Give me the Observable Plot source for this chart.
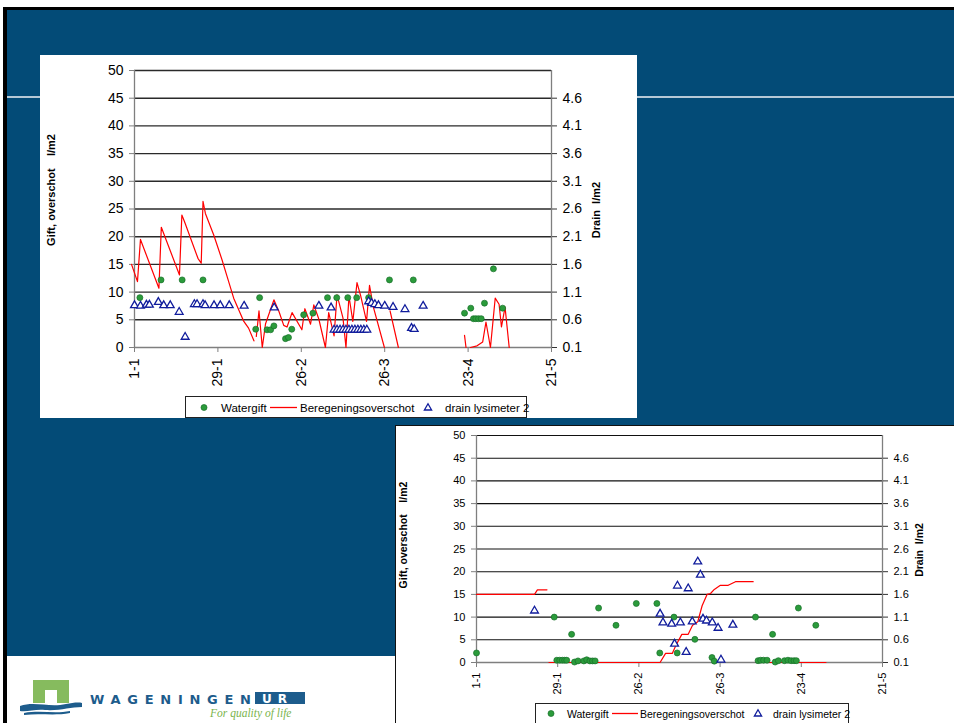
<!DOCTYPE html>
<html><head><meta charset="utf-8">
<script src="https://cdn.jsdelivr.net/npm/d3@7"></script>
<script src="https://cdn.jsdelivr.net/npm/@observablehq/plot@0.6"></script>
<style>
html,body{margin:0;padding:0}
body{width:954px;height:723px;overflow:hidden;background:#fff;position:relative;font-family:"Liberation Sans",Arial,sans-serif}
.abs{position:absolute}
#slide{left:3px;top:7px;width:960px;height:720px;background:#034b77;border-left:4px solid #000;border-top:3px solid #000;box-sizing:border-box}
#hline{left:7px;top:96px;width:947px;height:2px;background:#b6c8d6}
#foot{left:7px;top:656px;width:947px;height:67px;background:#fff}
#box1{left:40px;top:55px;width:597px;height:363px;background:#fff}
#box2{left:395px;top:425px;width:570px;height:310px;background:#fff;border:1px solid #111;box-sizing:border-box}
.legend{position:absolute;border:1px solid #222;background:#fff;box-sizing:border-box;color:#000;white-space:nowrap}
.legend span{position:absolute;top:50%;transform:translateY(-50%)}
.legend svg{position:absolute;top:0}
</style></head>
<body>
<div id="slide" class="abs"></div>
<div id="hline" class="abs"></div>
<div id="foot" class="abs"></div>
<div id="box1" class="abs"></div>
<div id="box2" class="abs"></div>
<div id="c1" class="abs" style="left:40px;top:55px"></div>
<div id="c2" class="abs" style="left:395px;top:425px"></div>
<div id="leg1" class="legend" style="left:185px;top:396px;width:342px;height:22px;font-size:11.5px"></div>
<div id="leg2" class="legend" style="left:535px;top:703px;width:314px;height:24px;font-size:10.5px"></div>
<svg class="abs" style="left:0;top:656px" width="395" height="67">
  <path d="M33,24 H69 V47 H57 V34 H45 V47 H33 Z" fill="#86bb5e"/>
  <path d="M20,50 C35,45 50,52 66,48 C72,47 78,46 82,47 L82,51 C70,51 60,55 45,54 C35,53 28,56 20,55 Z" fill="#1d5c8c"/>
  <path d="M24,57 C40,54 55,58 70,55 L70,57 C55,60 40,57 24,59 Z" fill="#1d5c8c"/>
  <text x="90" y="47.5" font-family="DejaVu Sans, sans-serif" font-size="13" font-weight="bold" textLength="161" lengthAdjust="spacing" fill="#1d5c8c">WAGENINGEN</text>
  <rect x="255" y="36" width="50" height="12" fill="#1d5c8c"/>
  <text x="262" y="46.5" font-family="DejaVu Sans, sans-serif" font-size="12" font-weight="bold" letter-spacing="6" fill="#fff">UR</text>
  <text x="210" y="61" font-family="Liberation Serif, serif" font-style="italic" font-size="11.5" fill="#79b44c">For quality of life</text>
</svg>
<script>
// ---------- data ----------
const dateLabels = ["1-1", "29-1", "26-2", "26-3", "23-4", "21-5"];
const dayTicks = [0, 28, 56, 84, 112, 140];
const leftTicks = [0, 5, 10, 15, 20, 25, 30, 35, 40, 45, 50];
const rightTicks = [0.1, 0.6, 1.1, 1.6, 2.1, 2.6, 3.1, 3.6, 4.1, 4.6];
const titleLeft = "Gift, overschot\u00a0\u00a0\u00a0 l/m2";
const titleRight = "Drain\u00a0 l/m2";
const legendNames = ["Watergift", "Beregeningsoverschot", "drain lysimeter 2"];

// chart 1 (day since 1-1, l/m2)
const c1Watergift = [[1.8,9],[8.9,12.2],[16,12.2],[23,12.2],[40.7,3.3],[42,9],[44.5,3.2],[45.7,3.2],[46.8,3.9],[50.7,1.6],[51.7,1.8],[52.8,3.3],[56.8,5.9],[59.9,6.2],[64.8,9],[67.9,9],[71.6,9],[74.6,9],[78.6,9],[85.6,12.2],[93.6,12.2],[110.8,6.2],[112.9,7.1],[113.8,5.2],[114.6,5.2],[115.5,5.2],[116.4,5.2],[117.5,8.0],[120.5,14.2],[123.6,7.1]];
const c1Overschot = [[-1,15],[1,11.9],[2,19.5],[8.2,10.7],[9,21.7],[15.1,13.1],[15.9,23.9],[16.8,22.7],[21.3,16.1],[22.4,15.2],[23,26.4],[23.8,24.2],[26.6,20.3],[29.4,15.8],[31.1,12.8],[33.3,8.9],[36.7,4.7],[38.3,3.5],[40.1,1.2],[40.5,null],[40.9,2.0],[41.8,6.6],[42.9,0],[44,4.3],[46.8,8.6],[48.5,6.5],[50.1,4.0],[51.2,3.7],[52.9,6.3],[56.2,3.2],[57.2,7.0],[59.1,4.2],[60.2,7.7],[61.9,5.1],[64.1,0],[65.2,6.3],[67,2.1],[68,9.5],[70,5.3],[71,0],[72,9.3],[73.3,4.7],[74.7,11.7],[76,9.2],[77.9,4.7],[78.9,11.2],[80.2,7.3],[83.9,0],[84.8,null],[85.8,6.6],[88.6,0],[100,null],[110.8,2.2],[111.3,0],[112,null],[112.8,0],[115,0.3],[116.9,1.0],[118,4.6],[119.5,0],[121.1,8.9],[122.4,7.8],[123.2,3.7],[124.4,7.3],[125.8,0]];
const c1Drain = [[0,0.86],[2,0.85],[4,0.87],[5,0.87],[8,0.92],[9.8,0.86],[12,0.86],[15,0.74],[17,0.29],[20.1,0.88],[21,0.88],[23,0.88],[23.7,0.86],[26.7,0.86],[28.8,0.86],[31.8,0.86],[36.8,0.85],[46.9,0.82],[61.9,0.85],[66,0.82],[67,0.42],[68,0.42],[69,0.42],[70,0.42],[71,0.42],[72,0.42],[73,0.42],[74,0.42],[75,0.42],[76,0.42],[77,0.42],[78,0.42],[78.6,0.93],[79.6,0.90],[80.7,0.88],[81.9,0.86],[84,0.85],[86.8,0.83],[90.8,0.79],[93,0.45],[93.9,0.43],[96.9,0.85]];

// chart 2
const c2Watergift = [[0,2.1],[26.8,10],[27.7,0.5],[28.7,0.5],[29.6,0.5],[30.4,0.5],[31.1,0.5],[32.8,6.2],[33.8,0.1],[35,0.35],[37,0.35],[38,0.6],[39.1,0.35],[40,0.35],[40.9,0.35],[42.1,12],[48.1,8.2],[55.1,13],[62.2,13],[63.2,2.1],[68.1,10],[69.2,2.1],[75.3,5.1],[81.2,1.1],[82,0.3],[96.2,10],[97.1,0.4],[98,0.5],[99,0.5],[100.2,0.5],[102.1,6.2],[103,0.1],[104.1,0.4],[106.2,0.4],[107.4,0.5],[108.5,0.4],[109.5,0.4],[110.3,0.4],[111,12],[117,8.2]];
const c2Overschot = [[0,15],[20,15],[21,16],[24.3,16],[24.6,null],[25,0],[63.3,0],[65.2,2],[67.5,2],[68.7,3.7],[70.8,6.2],[73,6.2],[74.5,8.2],[76.3,9],[77.8,12.5],[79.5,15],[80.7,15.2],[82,16.1],[84.1,17],[86.8,17],[89.3,17.8],[95.4,17.8],[96,null],[96.5,0],[120.5,0]];
const c2Drain = [[20,1.24],[63.3,1.17],[64.3,0.98],[67.3,0.95],[68.3,0.51],[69.3,1.79],[70.3,0.98],[72.3,0.33],[73,1.73],[74.4,1.0],[76.3,2.32],[77.2,2.03],[78.1,1.06],[79.3,1.02],[81.3,0.98],[83.3,0.86],[84.3,0.16],[88.4,0.93]];

// ---------- drawing ----------
const toLeft = d => (d - 0.1) * 10;          // drain axis -> left axis units
const labelOf = new Map(dayTicks.map((d, i) => [d, dateLabels[i]]));
const GREEN = "#2b9b3b", GREEN_S = "#17702a", RED = "#ff0000", BLUE = "#101c9c";

function chart(o) {
  return Plot.plot({
    width: o.width, height: o.height,
    marginLeft: o.ml, marginRight: o.mr, marginTop: o.mt, marginBottom: o.mb,
    style: {fontFamily: "Liberation Sans, Arial, sans-serif", fontSize: o.fs + "px", color: "#000", background: "transparent", overflow: "visible"},
    x: {domain: [0, 140]},
    y: {domain: [0, 50]},
    marks: [
      Plot.ruleY(leftTicks.filter(d => d > 0), {stroke: o.grid, strokeWidth: o.gw}),
      Plot.ruleX([0, 140], {stroke: "#7f7f7f", strokeWidth: 1.3}),
      Plot.ruleY([0], {stroke: "#7f7f7f", strokeWidth: 1.3}),
      Plot.axisY(leftTicks, {anchor: "left", tickSize: 5, tickPadding: o.lp, stroke: "#7f7f7f", fill: "#000", label: null, fontSize: o.fs}),
      Plot.axisY(rightTicks.map(toLeft), {anchor: "right", tickSize: 5, tickPadding: o.rp, stroke: "#333", fill: "#000", label: null, fontSize: o.fs, tickFormat: d => (d / 10 + 0.1).toFixed(1)}),
      Plot.axisX(dayTicks, {anchor: "bottom", tickSize: 5, tickPadding: o.xp, tickRotate: -90, stroke: "#7f7f7f", fill: "#000", label: null, fontSize: o.fs, tickFormat: d => labelOf.get(d)}),
      Plot.line(o.over, {x: d => d[0], y: d => d[1], stroke: RED, strokeWidth: 1.2}),
      Plot.dot(o.water, {x: d => d[0], y: d => d[1], r: 3, fill: GREEN, stroke: GREEN_S, strokeWidth: 0.7}),
      Plot.dot(o.drain, {x: d => d[0], y: d => toLeft(d[1]), symbol: "triangle", r: 2.9, fill: "#fff", stroke: BLUE, strokeWidth: 1.3}),
      Plot.text([titleLeft], {text: d => d, frameAnchor: "left", textAnchor: "middle", dx: o.tlx, dy: o.tly, rotate: -90, fontWeight: "bold", fontSize: o.tfs, fill: "#000"}),
      Plot.text([titleRight], {text: d => d, frameAnchor: "right", textAnchor: "middle", dx: o.trx, dy: o.try_, rotate: -90, fontWeight: "bold", fontSize: o.tfs, fill: "#000"})
    ]
  });
}

document.getElementById("c1").append(chart({
  width: 596, height: 340, ml: 94, mr: 85, mt: 15, mb: 48, fs: 14, lp: 6, rp: 6, xp: 6,
  grid: "#2a2a2a", gw: 1.4, water: c1Watergift, over: c1Overschot, drain: c1Drain,
  tfs: 11, tlx: -83, tly: -19, trx: 45, try_: 1
}));
document.getElementById("c2").append(chart({
  width: 559, height: 270, ml: 81, mr: 72, mt: 10, mb: 33, fs: 11, lp: 6, rp: 6, xp: 5,
  grid: "#111", gw: 1.1, water: c2Watergift, over: c2Overschot, drain: c2Drain,
  tfs: 10.5, tlx: -73, tly: -14, trx: 37, try_: 1
}));

function legend(id, pos) {
  const el = document.getElementById(id);
  const h = el.clientHeight;
  const ns = "http://www.w3.org/2000/svg";
  const svg = document.createElementNS(ns, "svg");
  svg.setAttribute("width", el.clientWidth); svg.setAttribute("height", h);
  const cy = pos.cy;
  const c = document.createElementNS(ns, "circle");
  c.setAttribute("cx", pos.dot); c.setAttribute("cy", cy); c.setAttribute("r", 3);
  c.setAttribute("fill", GREEN); c.setAttribute("stroke", GREEN_S); c.setAttribute("stroke-width", 0.7);
  const l = document.createElementNS(ns, "line");
  l.setAttribute("x1", pos.line[0]); l.setAttribute("x2", pos.line[1]); l.setAttribute("y1", cy); l.setAttribute("y2", cy);
  l.setAttribute("stroke", RED); l.setAttribute("stroke-width", 1.3);
  const t = document.createElementNS(ns, "path");
  const x = pos.tri;
  t.setAttribute("d", `M${x},${cy - 3.8} L${x + 3.6},${cy + 2.5} L${x - 3.6},${cy + 2.5} Z`);
  t.setAttribute("fill", "#fff"); t.setAttribute("stroke", BLUE); t.setAttribute("stroke-width", 1.3);
  svg.append(c, l, t);
  el.append(svg);
  legendNames.forEach((n, i) => {
    const s = document.createElement("span");
    s.textContent = n; s.style.left = pos.text[i] + "px"; s.style.top = cy + "px";
    el.append(s);
  });
}
legend("leg1", {cy: 10.5, dot: 18, line: [84, 111], tri: 242, text: [35, 114, 259]});
legend("leg2", {cy: 9.5, dot: 15, line: [76, 102], tri: 222, text: [31, 104, 237]});
</script>
</body></html>
